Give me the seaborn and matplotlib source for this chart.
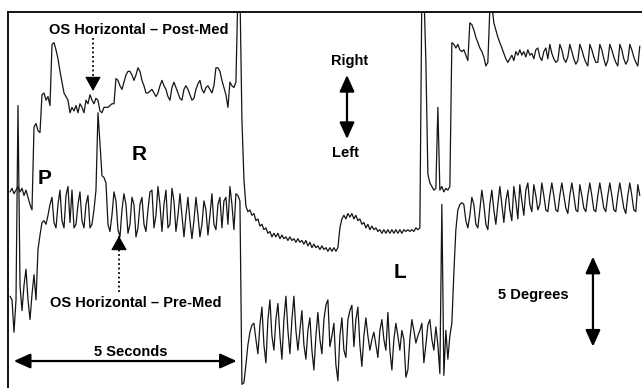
import numpy as np
import pandas as pd
import seaborn as sns
import matplotlib.pyplot as plt
from matplotlib.lines import Line2D

# Horizontal eye position of the left eye (degrees), sampled at 22.3 Hz
fs = 22.3
t0 = 0.045

post_med = [
    10.9, 11.1, 10.8, 11.0, 11.2, 10.9, 11.1, 10.7, 11.0, 10.6,
    10.2, 9.9, 14.5, 14.7, 14.3, 14.2, 16.3, 16.4, 16.0, 16.2,
    15.7, 19.1, 19.2, 18.8, 18.3, 17.6, 17.0, 16.4, 16.2, 16.0,
    15.3, 15.6, 15.4, 15.7, 15.3, 15.8, 15.6, 15.3, 16.0, 15.8,
    16.3, 16.0, 15.8, 16.1, 16.0, 15.4, 15.3, 15.6, 15.6, 15.6,
    15.7, 15.8, 15.8, 17.2, 17.1, 16.8, 16.6, 17.0, 17.4, 17.6,
    17.6, 17.4, 17.1, 17.4, 17.8, 17.6, 17.1, 16.8, 16.4, 16.4,
    16.5, 16.6, 16.4, 16.2, 16.4, 16.8, 17.1, 16.8, 16.6, 16.2,
    16.0, 16.7, 17.0, 16.7, 16.4, 16.1, 16.0, 16.6, 16.8, 16.6,
    16.3, 16.0, 16.1, 16.6, 16.9, 17.1, 16.6, 16.4, 16.7, 16.8,
    16.6, 16.4, 16.8, 17.8, 17.8, 17.6, 17.1, 16.7, 16.3, 15.6,
    17.0, 16.8, 16.7, 17.0, 22.1, 22.1, 14.9, 11.6, 10.1, 9.8,
    9.9, 9.6, 9.7, 9.3, 9.4, 9.0, 9.1, 8.8, 8.9, 8.6,
    8.7, 8.4, 8.6, 8.4, 8.6, 8.3, 8.5, 8.3, 8.4, 8.2,
    8.4, 8.2, 8.3, 8.1, 8.3, 8.1, 8.2, 8.0, 8.2, 7.9,
    8.1, 7.8, 8.0, 7.8, 7.9, 7.7, 7.9, 7.7, 7.8, 7.6,
    7.8, 7.6, 7.8, 7.6, 7.8, 8.9, 9.4, 9.6, 9.4, 9.7,
    9.5, 9.7, 9.4, 9.6, 9.3, 9.4, 9.1, 9.2, 8.9, 9.1,
    8.8, 9.0, 8.8, 8.9, 8.7, 8.8, 8.6, 8.8, 8.6, 8.8,
    8.6, 8.8, 8.6, 8.8, 8.6, 8.8, 8.6, 8.8, 8.7, 8.8,
    8.7, 8.8, 8.7, 8.9, 8.8, 8.9, 22.1, 22.1, 18.2, 11.9,
    11.4, 11.2, 11.0, 11.1, 15.6, 11.0, 11.2, 10.9, 11.1, 11.0,
    11.2, 19.2, 19.1, 18.9, 19.1, 18.8, 18.7, 18.8, 18.5, 18.2,
    20.3, 20.2, 19.9, 19.5, 19.2, 18.9, 18.7, 18.4, 17.9, 18.1,
    21.1, 21.3, 20.3, 19.9, 19.5, 19.2, 18.9, 18.6, 18.3, 18.1,
    18.3, 18.5, 18.2, 18.7, 18.5, 18.8, 18.5, 18.7, 18.4, 18.8,
    18.5, 18.6, 18.3, 18.8, 18.9, 18.4, 18.2, 18.7, 18.9, 18.3,
    19.1, 18.6, 18.3, 18.1, 18.2, 19.1, 18.8, 18.3, 18.1, 18.4,
    19.1, 18.7, 18.3, 18.0, 18.2, 19.1, 18.8, 18.4, 18.1, 17.9,
    19.1, 18.8, 18.4, 18.1, 18.1, 19.1, 18.8, 18.3, 17.9, 18.2,
    19.1, 18.8, 18.4, 18.1, 17.9, 19.1, 18.8, 18.3, 18.0, 18.2,
    19.1, 18.8, 18.4, 18.1, 17.9, 19.0,
]

pre_med = [
    5.1, 4.9, 3.1, 4.9, 15.7, 5.7, 4.3, 5.7, 6.6, 4.9,
    3.8, 5.2, 6.3, 4.9, 7.7, 8.5, 9.2, 9.3, 9.1, 9.6,
    10.2, 10.6, 9.2, 8.9, 10.2, 11.0, 9.3, 8.9, 10.7, 11.2,
    9.2, 11.0, 8.9, 9.1, 10.2, 10.9, 9.3, 8.9, 10.2, 10.7,
    8.9, 9.1, 9.9, 11.0, 15.3, 13.6, 11.8, 11.7, 11.4, 9.1,
    8.7, 9.6, 10.9, 10.4, 8.8, 8.4, 9.9, 10.8, 10.2, 8.6,
    9.1, 10.6, 10.2, 8.4, 8.9, 10.2, 10.6, 9.1, 8.7, 9.9,
    10.9, 11.0, 8.9, 9.6, 11.2, 10.2, 8.7, 10.2, 11.0, 8.9,
    9.1, 11.1, 10.4, 8.7, 9.6, 10.8, 9.6, 8.4, 9.6, 10.6,
    9.3, 8.3, 9.3, 10.6, 9.6, 8.4, 9.1, 10.4, 9.9, 8.5,
    9.6, 10.8, 9.1, 8.8, 10.2, 10.6, 8.9, 10.4, 10.6, 9.1,
    11.2, 10.2, 8.8, 10.8, 10.7, 10.4, 0.2, 0.3, 1.3, 2.4,
    3.1, 3.5, 3.6, 2.7, 1.9, 3.5, 4.5, 2.4, 1.4, 3.8,
    4.9, 2.9, 2.1, 3.8, 4.7, 2.9, 1.6, 3.8, 5.1, 3.2,
    1.9, 3.8, 5.1, 3.2, 2.1, 3.2, 4.3, 2.4, 1.6, 3.2,
    3.9, 2.1, 1.0, 2.9, 4.2, 2.7, 1.9, 3.8, 4.6, 4.9,
    2.3, 2.9, 3.6, 1.3, 0.4, 2.9, 3.9, 2.1, 1.7, 3.8,
    4.3, 4.6, 2.3, 3.8, 4.5, 2.4, 1.2, 2.9, 3.9, 2.9,
    2.1, 2.7, 3.1, 2.4, 1.7, 3.2, 3.8, 2.7, 2.1, 4.2,
    2.1, 1.0, 2.7, 3.6, 2.9, 2.1, 3.2, 2.7, 0.6, 1.0,
    2.7, 3.8, 3.2, 2.5, 2.9, 3.2, 3.6, 1.4, 2.4, 3.5,
    3.8, 2.7, 2.1, 3.4, 2.4, 0.8, 10.2, 0.7, 3.2, 1.6,
    2.9, 3.6, 6.4, 8.8, 9.9, 10.2, 10.3, 10.2, 9.3, 8.9,
    9.6, 10.6, 10.2, 9.1, 8.9, 9.9, 11.0, 10.2, 9.1, 8.8,
    10.2, 11.0, 9.9, 9.1, 10.2, 11.2, 10.2, 9.2, 10.4, 11.0,
    9.9, 9.3, 11.2, 10.4, 9.4, 11.3, 10.4, 9.6, 11.0, 11.4,
    10.2, 9.8, 11.3, 10.7, 9.9, 10.2, 11.4, 10.7, 9.9, 9.8,
    10.7, 11.4, 10.7, 9.9, 9.8, 10.7, 11.4, 10.7, 10.0, 9.7,
    10.7, 11.4, 10.7, 9.9, 9.8, 11.3, 10.7, 10.0, 9.8, 10.7,
    11.4, 10.7, 9.9, 9.8, 10.7, 11.4, 10.7, 10.0, 9.8, 10.7,
    11.4, 10.7, 9.9, 9.8, 10.7, 11.4, 10.7, 10.0, 9.7, 10.7,
    11.4, 10.7, 9.9, 9.8, 11.3, 10.7,
]

frames = []
for name, vals in [('Post-Med', post_med), ('Pre-Med', pre_med)]:
    t = t0 + np.arange(len(vals)) / fs
    frames.append(pd.DataFrame({'time': t, 'deg': vals, 'trace': name}))
df = pd.concat(frames, ignore_index=True)

sns.set_style('white')
plt.rcParams['font.family'] = ['Liberation Sans', 'DejaVu Sans']

fig = plt.figure(figsize=(6.42, 3.88), dpi=100)
ax = fig.add_axes([8 / 642, 0, 634 / 642, 376 / 388])

sns.lineplot(data=df, x='time', y='deg', units='trace', estimator=None,
             color='#151515', lw=0.9, ax=ax)

ax.set_xlim(0, 14.22)
ax.set_ylim(0, 20.9)
ax.set_xticks([])
ax.set_yticks([])
ax.set_xlabel('')
ax.set_ylabel('')
for side in ['right', 'bottom']:
    ax.spines[side].set_visible(False)
for side in ['top', 'left']:
    ax.spines[side].set_color('black')
    ax.spines[side].set_linewidth(1.3)


def fpos(x, y):
    # position on the figure from pixel offsets of the original layout
    return (x / 642, 1 - y / 388)


bold = dict(fontweight='bold', ha='center', va='center', color='black')
fig.text(*fpos(139, 30), 'OS Horizontal – Post-Med', fontsize=10.5, **bold)
fig.text(*fpos(136, 303), 'OS Horizontal – Pre-Med', fontsize=10.5, **bold)
fig.text(*fpos(350, 61), 'Right', fontsize=10.5, **bold)
fig.text(*fpos(345, 153), 'Left', fontsize=10.5, **bold)
fig.text(*fpos(131, 352), '5 Seconds', fontsize=10.5, **bold)
fig.text(*fpos(533, 295), '5 Degrees', fontsize=10.5, **bold)
fig.text(*fpos(45, 179), 'P', fontsize=15, **bold)
fig.text(*fpos(139, 155), 'R', fontsize=15, **bold)
fig.text(*fpos(400, 272), 'L', fontsize=15, **bold)

solid = dict(arrowstyle='<|-|>,head_length=1.0,head_width=0.45', lw=1.6,
             color='black', shrinkA=0, shrinkB=0)
head = dict(arrowstyle='-|>,head_length=0.9,head_width=0.5', lw=0.8,
            color='black', shrinkA=0, shrinkB=0)

# dotted pointers to the two traces: dotted shaft + solid head
for x, y0, y1 in [(93, 38, 91), (119, 292, 236)]:
    fig.add_artist(Line2D([x / 642, x / 642], [1 - y0 / 388, 1 - y1 / 388],
                          transform=fig.transFigure, color='black', lw=1.3,
                          linestyle=(0, (1, 1.5))))
    step = 13 if y1 > y0 else -13
    ax.annotate('', xy=fpos(x, y1), xytext=fpos(x, y1 - step),
                xycoords='figure fraction', textcoords='figure fraction',
                arrowprops=head)

ax.annotate('', xy=fpos(347, 75), xytext=fpos(347, 139), xycoords='figure fraction',
            textcoords='figure fraction', arrowprops=solid)

# scale bars: 5 s and 5 deg in data units
ax.annotate('', xy=(0.13, 1.5), xytext=(5.13, 1.5), arrowprops=solid)
ax.annotate('', xy=(13.12, 2.3), xytext=(13.12, 7.3), arrowprops=solid)

fig.savefig('out.png', dpi=100)
